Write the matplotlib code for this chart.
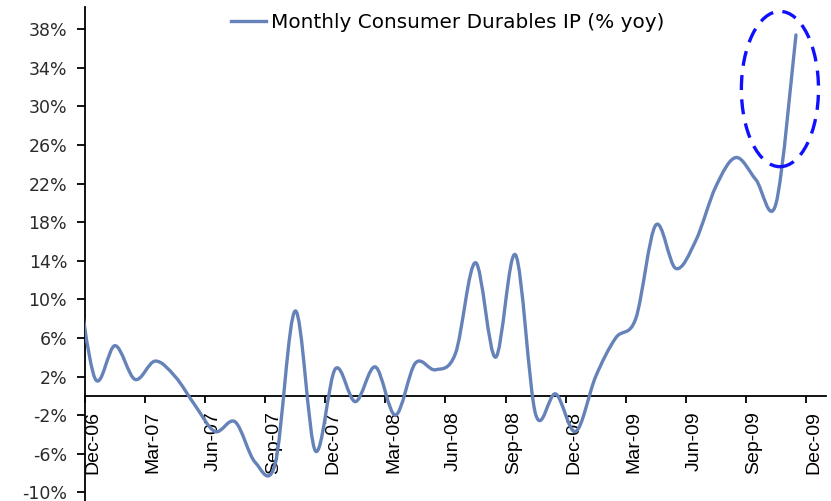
import matplotlib
matplotlib.use("Agg")
import matplotlib.pyplot as plt
from matplotlib.path import Path
from matplotlib.patches import PathPatch, Ellipse
from matplotlib.lines import Line2D
from matplotlib.transforms import ScaledTranslation

# ---- data (monthly, % yoy), Nov-06 .. Nov-09 ----
months = ["Nov-06", "Dec-06", "Jan-07", "Feb-07", "Mar-07", "Apr-07", "May-07", "Jun-07",
          "Jul-07", "Aug-07", "Sep-07", "Oct-07", "Nov-07", "Dec-07", "Jan-08", "Feb-08",
          "Mar-08", "Apr-08", "May-08", "Jun-08", "Jul-08", "Aug-08", "Sep-08", "Oct-08",
          "Nov-08", "Dec-08", "Jan-09", "Feb-09", "Mar-09", "Apr-09", "May-09", "Jun-09",
          "Jul-09", "Aug-09", "Sep-09", "Oct-09", "Nov-09"]
values = [14.0, 1.8, 5.2, 1.7, 3.6, 2.0, -1.0, -3.7,
          -2.7, -6.9, -7.0, 8.8, -5.7, 2.8, -0.6, 3.0,
          -2.0, 3.4, 2.7, 4.4, 13.8, 4.0, 14.6, -1.9,
          0.2, -3.7, 2.0, 6.0, 8.0, 17.7, 13.2, 16.1,
          21.7, 24.7, 22.4, 19.9, 37.4]
tick_labels = ["Dec-06", "Mar-07", "Jun-07", "Sep-07", "Dec-07", "Mar-08", "Jun-08",
               "Sep-08", "Dec-08", "Mar-09", "Jun-09", "Sep-09", "Dec-09"]
y_ticks = [-10, -6, -2, 2, 6, 10, 14, 18, 22, 26, 30, 34, 38]
series_name = "Monthly Consumer Durables IP (% yoy)"

# x position: month index relative to Dec-06, plotted mid-month
xs = [i - 1 + 0.5 for i in range(len(values))]

line_color = "#6582b9"

fig = plt.figure(figsize=(8.31, 5.01), dpi=100)
ax = fig.add_axes([85 / 831, 0.0, 741 / 831, 494 / 501])
ax.set_xlim(0, 37)
ax.set_ylim(-10.9, 40.3)

# smoothed line (Bezier through the data points, Excel-style smoothing)
pts = list(zip(xs, values))
n = len(pts)
verts = [pts[0]]
codes = [Path.MOVETO]
for i in range(n - 1):
    p0 = pts[i - 1] if i > 0 else pts[i]
    p1 = pts[i]
    p2 = pts[i + 1]
    p3 = pts[i + 2] if i + 2 < n else pts[i + 1]
    c1 = (p1[0] + (p2[0] - p0[0]) / 6, p1[1] + (p2[1] - p0[1]) / 6)
    c2 = (p2[0] - (p3[0] - p1[0]) / 6, p2[1] - (p3[1] - p1[1]) / 6)
    verts += [c1, c2, p2]
    codes += [Path.CURVE4] * 3
patch = PathPatch(Path(verts, codes), fill=False, edgecolor=line_color, lw=2.4,
                  capstyle="round", joinstyle="round", zorder=3)
ax.add_patch(patch)

# spines / axes
for s in ["top", "right"]:
    ax.spines[s].set_visible(False)
ax.spines["left"].set_linewidth(1.3)
ax.spines["bottom"].set_position(("data", 0))
ax.spines["bottom"].set_linewidth(1.3)

ax.set_yticks(y_ticks)
ax.set_yticklabels([f"{v}%" for v in y_ticks], fontsize=12.5, color="#2a2a2a",
                   family="DejaVu Sans")
ax.tick_params(axis="y", direction="out", length=5.8, width=1.3, pad=7)

ax.set_xticks(range(0, 37, 3))
ax.set_xticklabels(tick_labels, rotation=90, fontsize=14, family="Liberation Sans",
                   va="top", ha="center")
ax.tick_params(axis="x", direction="out", length=5, width=1.3, pad=6)
offset = ScaledTranslation(8 / 100, 0, fig.dpi_scale_trans)
for lab in ax.get_xticklabels():
    lab.set_transform(lab.get_transform() + offset)

# legend
handle = Line2D([], [], color=line_color, lw=2.4)
fig.legend([handle], [series_name], loc="center left",
           bbox_to_anchor=(231 / 831, 1 - 22 / 501), frameon=False,
           prop={"family": "DejaVu Sans", "size": 14.4},
           handlelength=1.75, handletextpad=0.25, borderpad=0, borderaxespad=0)

# highlight ellipse around the latest jump
last_x, last_y = xs[-1], values[-1]
ell = Ellipse((last_x - 0.8, last_y - 5.6), width=3.85, height=16.1, fill=False,
              edgecolor="#1010ff", lw=2.4, linestyle=(0, (4.5, 2.8)), zorder=4,
              clip_on=False)
ax.add_patch(ell)

fig.savefig("out.png", dpi=100)
